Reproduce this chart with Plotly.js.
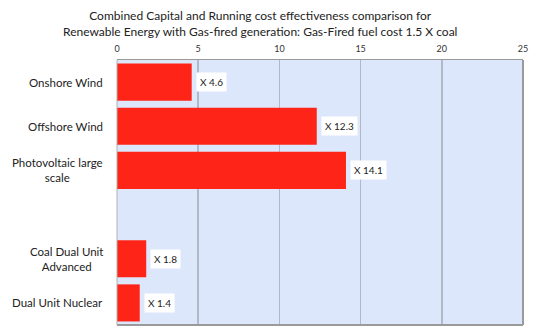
<!DOCTYPE html>
<html><head><meta charset="utf-8">
<script src="https://cdn.plot.ly/plotly-3.0.1.min.js"></script>
<style>html,body{margin:0;padding:0;background:#fff}#chart{width:540px;height:332px}</style>
</head><body><div id="chart"></div>
<script>
const categories = ["Onshore Wind", "Offshore Wind", "Photovoltaic large<br>scale", " ", "Coal Dual Unit<br>Advanced", "Dual Unit Nuclear"];
const values = [4.6, 12.3, 14.1, null, 1.8, 1.4];
const labels = ["X 4.6", "X 12.3", "X 14.1", "", "X 1.8", "X 1.4"];
const xTicks = [0, 5, 10, 15, 20, 25];
const titleText = 'Combined Capital and Running cost effectiveness comparison for<br>Renewable Energy with Gas-fired generation: Gas-Fired fuel cost 1.5 X coal';

const font = "Lato, 'Open Sans', sans-serif";
const annotations = [];
categories.forEach((c, i) => {
  if (values[i] !== null) {
    annotations.push({
      x: values[i], y: c, xref: 'x', yref: 'y', text: labels[i],
      showarrow: false, xanchor: 'left', yanchor: 'middle', xshift: 4,
      bgcolor: '#ffffff', borderpad: 3,
      font: {family: font, size: 10, color: '#222'}
    });
  }
  annotations.push({
    x: 0, y: c, xref: 'paper', yref: 'y', text: c, showarrow: false,
    xanchor: 'right', yanchor: 'middle', xshift: -12, align: 'center',
    font: {family: font, size: 11.5, color: '#222'}
  });
});
annotations.push({
  x: 0.352, y: 1.072, xref: 'paper', yref: 'paper', text: titleText, showarrow: false,
  xanchor: 'center', yanchor: 'bottom', align: 'center',
  font: {family: font, size: 12, color: '#222'}
});

Plotly.newPlot('chart', [{
  type: 'bar', orientation: 'h', x: values, y: categories,
  marker: {color: '#ff2418'}, width: 0.84, hoverinfo: 'none'
}], {
  width: 540, height: 332,
  margin: {l: 117, r: 17, t: 60, b: 7},
  paper_bgcolor: '#ffffff', plot_bgcolor: '#dce7fb',
  xaxis: {
    side: 'top', range: [0, 25], tickvals: xTicks, ticktext: xTicks.map(String),
    showgrid: true, gridcolor: '#b4b8c4', gridwidth: 1.5, zeroline: false,
    showline: true, linecolor: '#9a9a9a', linewidth: 1, mirror: false,
    ticks: '', tickfont: {family: font, size: 9, color: '#333'}, ticklabelstandoff: 3
  },
  yaxis: {
    type: 'category', autorange: 'reversed', showgrid: false, zeroline: false,
    showline: false, ticks: '', showticklabels: false
  },
  shapes: [
    {type: 'line', xref: 'paper', yref: 'paper', x0: 1, x1: 1, y0: 0, y1: 1, line: {color: '#9a9a9a', width: 2}},
    {type: 'line', xref: 'paper', yref: 'paper', x0: 0, x1: 1, y0: 0, y1: 0, line: {color: '#9a9a9a', width: 2}},
    {type: 'line', xref: 'paper', yref: 'paper', x0: 0, x1: 0, y0: 0, y1: 1, line: {color: '#b0b0b0', width: 1}}
  ],
  annotations: annotations,
  showlegend: false, bargap: 0.16
}, {staticPlot: true, displayModeBar: false});
</script></body></html>
